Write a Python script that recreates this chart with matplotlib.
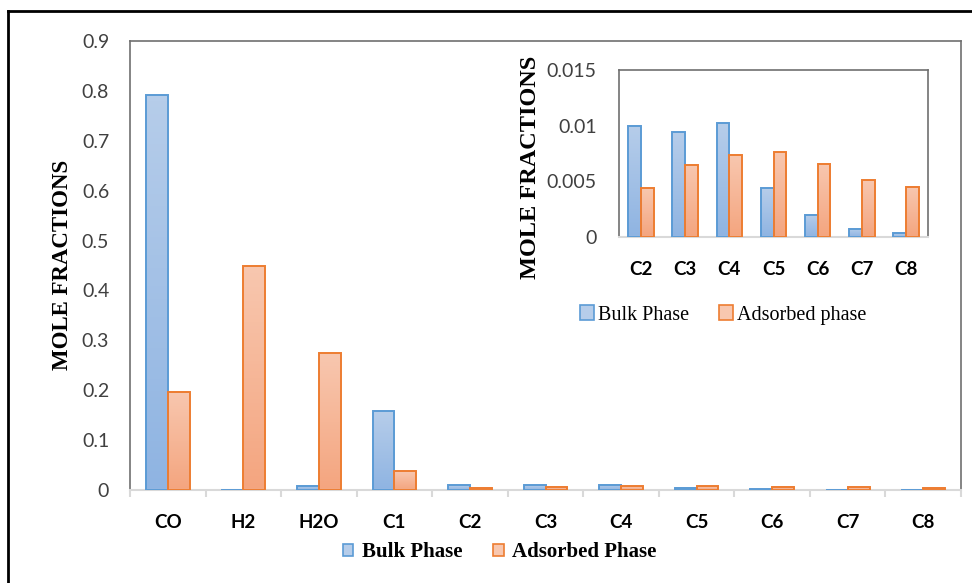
import numpy as np
import matplotlib
matplotlib.use('Agg')
import matplotlib.pyplot as plt
from matplotlib.colors import LinearSegmentedColormap
from matplotlib.patches import Patch
from matplotlib.lines import Line2D

# Datos
componentes = ['CO', 'H2', 'H2O', 'C1', 'C2', 'C3', 'C4', 'C5', 'C6', 'C7', 'C8']
bulk = [0.791, 0.0, 0.0087, 0.158, 0.0100, 0.0094, 0.0102, 0.0044, 0.0020, 0.00075, 0.00033]
adsorbida = [0.197, 0.448, 0.274, 0.038, 0.0044, 0.0065, 0.0074, 0.0076, 0.0066, 0.0051, 0.0045]

inset_comp = ['C2', 'C3', 'C4', 'C5', 'C6', 'C7', 'C8']
inset_bulk = [0.0100, 0.0094, 0.0102, 0.0044, 0.0020, 0.00075, 0.00033]
inset_ads = [0.0044, 0.0065, 0.0074, 0.0076, 0.0066, 0.0051, 0.0045]

main_yticks = [0, 0.1, 0.2, 0.3, 0.4, 0.5, 0.6, 0.7, 0.8, 0.9]
main_ylabels = ['0', '0.1', '0.2', '0.3', '0.4', '0.5', '0.6', '0.7', '0.8', '0.9']
inset_yticks = [0, 0.005, 0.01, 0.015]
inset_ylabels = ['0', '0.005', '0.01', '0.015']

# Colores estilo Excel
azul_borde, azul_top, azul_bot = '#5b9bd5', '#b6cdea', '#8fb4e2'
nar_borde, nar_top, nar_bot = '#ed7d31', '#f8c7af', '#f4a57f'
gris_txt = '#404040'
fuente_num = 'Lato'
fuente_serif = 'Liberation Serif'


def barras_gradiente(ax, x, alturas, w, c_top, c_bot, borde):
    # barras con relleno degradado (imagen) y borde de color
    bars = ax.bar(x, alturas, w, facecolor='none', edgecolor=borde, linewidth=1.4, zorder=3)
    cmap = LinearSegmentedColormap.from_list('g', [c_bot, c_top])
    grad = np.linspace(0, 1, 64).reshape(-1, 1)
    for b in bars:
        h = b.get_height()
        if h <= 0:
            continue
        x0 = b.get_x()
        ax.imshow(grad, extent=[x0, x0 + b.get_width(), 0, h], origin='lower',
                  aspect='auto', cmap=cmap, zorder=2)
    return bars


def estilo_ejes(ax):
    for s in ['left', 'top', 'right']:
        ax.spines[s].set_color('#6f6f6f')
        ax.spines[s].set_linewidth(1.2)
    ax.spines['bottom'].set_color('#d9d9d9')
    ax.spines['bottom'].set_linewidth(1.5)
    ax.tick_params(axis='y', length=0, labelcolor=gris_txt)


fig = plt.figure(figsize=(9.72, 5.83), dpi=100)

# marco exterior (solo se ven borde izquierdo y superior)
fig.add_artist(Line2D([7.5 / 972, 7.5 / 972], [0, 1 - 11 / 583], transform=fig.transFigure,
                      color='black', lw=2.0))
fig.add_artist(Line2D([7.5 / 972, 1], [1 - 11 / 583, 1 - 11 / 583], transform=fig.transFigure,
                      color='black', lw=2.0))

#%% grafico principal
ax = fig.add_axes([130 / 972, 93 / 583, 831 / 972, 449 / 583])
x = np.arange(len(componentes))
w = 0.29
barras_gradiente(ax, x - w / 2, bulk, w, azul_top, azul_bot, azul_borde)
barras_gradiente(ax, x + w / 2, adsorbida, w, nar_top, nar_bot, nar_borde)
ax.set_xlim(-0.5, len(componentes) - 0.5)
ax.set_ylim(0, 0.9)
ax.set_yticks(main_yticks)
ax.set_yticklabels(main_ylabels, fontsize=14, family=fuente_num)
ax.set_xticks(x)
ax.set_xticklabels(componentes, fontsize=13.5, fontweight='bold', family=fuente_num)
ax.set_xticks(np.arange(len(componentes) + 1) - 0.5, minor=True)
ax.tick_params(axis='x', which='major', length=0, pad=17)
ax.tick_params(axis='x', which='minor', length=5, color='#d9d9d9', width=1.5)
ax.tick_params(axis='y', pad=15)
estilo_ejes(ax)
fig.text(63 / 972, 1 - 265 / 583, 'MOLE FRACTIONS', rotation=90, ha='center', va='center',
         fontsize=16.5, fontweight='bold', family=fuente_serif)

handles = [Patch(facecolor=azul_top, edgecolor=azul_borde, linewidth=1.2),
           Patch(facecolor=nar_top, edgecolor=nar_borde, linewidth=1.2)]
fig.legend(handles, ['Bulk Phase', 'Adsorbed Phase'], loc='center',
           bbox_to_anchor=(0.514, 1 - 552 / 583), ncol=2, frameon=False,
           handlelength=0.5, handleheight=0.5, handletextpad=0.4, columnspacing=1.5,
           prop={'family': fuente_serif, 'weight': 'bold', 'size': 15})

#%% grafico insertado
axi = fig.add_axes([619 / 972, 346 / 583, 309 / 972, 167 / 583])
xi = np.arange(len(inset_comp))
barras_gradiente(axi, xi - w / 2, inset_bulk, w, azul_top, azul_bot, azul_borde)
barras_gradiente(axi, xi + w / 2, inset_ads, w, nar_top, nar_bot, nar_borde)
axi.set_xlim(-0.5, len(inset_comp) - 0.5)
axi.set_ylim(0, 0.015)
axi.set_yticks(inset_yticks)
axi.set_yticklabels(inset_ylabels, fontsize=14, family=fuente_num)
axi.set_xticks(xi)
axi.set_xticklabels(inset_comp, fontsize=13.5, fontweight='bold', family=fuente_num)
axi.tick_params(axis='x', length=0, pad=17)
axi.tick_params(axis='y', pad=16)
estilo_ejes(axi)
fig.text(530 / 972, 1 - 167 / 583, 'MOLE FRACTIONS', rotation=90, ha='center', va='center',
         fontsize=17.5, fontweight='bold', family=fuente_serif)
fig.legend(handles, ['Bulk Phase', 'Adsorbed phase'], loc='center',
           bbox_to_anchor=(723 / 972, 1 - 315 / 583), ncol=2, frameon=False,
           handlelength=0.7, handleheight=0.7, handletextpad=0.2, columnspacing=1.5,
           prop={'family': fuente_serif, 'size': 14.5})

fig.savefig('out.png', dpi=100)
